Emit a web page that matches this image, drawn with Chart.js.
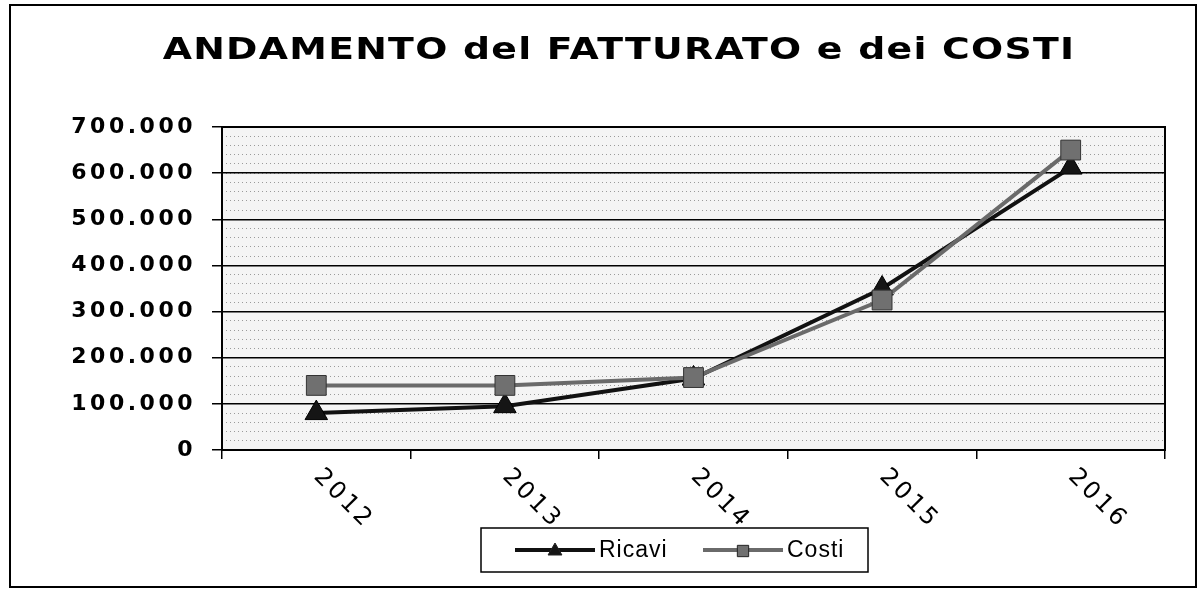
<!DOCTYPE html>
<html>
<head>
<meta charset="utf-8">
<script src="https://cdn.jsdelivr.net/npm/chart.js@4/dist/chart.umd.min.js"></script>
<style>
  html, body { margin: 0; padding: 0; background: #fff; }
  #wrap { width: 1202px; height: 590px; position: relative; }
</style>
</head>
<body>
<div id="wrap"><canvas id="chart" width="1202" height="590"></canvas></div>
<script>
const anni = ['2012', '2013', '2014', '2015', '2016'];
const ricavi = [80000, 95000, 155000, 350000, 612000];
const costi = [140000, 140000, 157000, 325000, 650000];
const titolo = 'ANDAMENTO del FATTURATO e dei COSTI';
const yMax = 700000;
const yStep = 100000;
const yMinorStep = 20000;

function formatIt(v) {
    return String(v).replace(/\B(?=(\d{3})+(?!\d))/g, '.');
}

// frame, title, rotated year labels, boxed legend
const decorPlugin = {
    id: 'decor',
    beforeDraw(chart) {
        const { ctx, chartArea } = chart;
        ctx.save();
        ctx.fillStyle = '#f4f4f4';
        ctx.fillRect(chartArea.left, chartArea.top, chartArea.right - chartArea.left, chartArea.bottom - chartArea.top);
        ctx.restore();
        ctx.letterSpacing = '3.5px';
    },
    beforeDatasetsDraw(chart) {
        const { ctx, chartArea } = chart;
        ctx.letterSpacing = '0px';
        ctx.save();
        ctx.strokeStyle = '#000';
        ctx.lineWidth = 2;
        ctx.strokeRect(chartArea.left, chartArea.top, chartArea.right - chartArea.left, chartArea.bottom - chartArea.top);
        ctx.restore();
    },
    afterDraw(chart) {
        const { ctx } = chart;
        const xs = chart.scales.x;
        ctx.save();

        // outer frame
        ctx.strokeStyle = '#000';
        ctx.lineWidth = 2;
        ctx.strokeRect(10, 5, 1186, 582);

        // title, stretched wide like the original
        ctx.fillStyle = '#000';
        ctx.font = 'bold 30px "DejaVu Sans"';
        ctx.letterSpacing = '1px';
        ctx.textAlign = 'center';
        ctx.textBaseline = 'middle';
        ctx.save();
        ctx.translate(619, 51);
        ctx.scale(1.26, 1);
        ctx.fillText(titolo, 0, 0);
        ctx.restore();

        // year labels, turned clockwise
        ctx.font = '24px "DejaVu Sans"';
        ctx.letterSpacing = '3px';
        anni.forEach((a, i) => {
            const px = xs.getPixelForValue(i);
            ctx.save();
            ctx.translate(px + 27, xs.top + 49);
            ctx.rotate(Math.PI / 4);
            ctx.fillText(a, 0, 0);
            ctx.restore();
        });

        // legend
        ctx.letterSpacing = '1px';
        ctx.lineWidth = 1.5;
        ctx.strokeStyle = '#000';
        ctx.strokeRect(481, 528, 387, 44);
        ctx.font = '23px "Liberation Sans"';
        ctx.textAlign = 'left';
        const items = [
            { ds: chart.data.datasets[0], x: 515 },
            { ds: chart.data.datasets[1], x: 703 }
        ];
        items.forEach(it => {
            const y = 550;
            ctx.strokeStyle = it.ds.borderColor;
            ctx.lineWidth = 4;
            ctx.beginPath();
            ctx.moveTo(it.x, y);
            ctx.lineTo(it.x + 80, y);
            ctx.stroke();
            ctx.fillStyle = it.ds.pointBackgroundColor;
            ctx.strokeStyle = '#222';
            ctx.lineWidth = 1;
            Chart.helpers.drawPoint(ctx, {
                pointStyle: it.ds.pointStyle,
                rotation: 0,
                radius: 8,
                borderWidth: 1
            }, it.x + 40, y + 1);
            ctx.fillStyle = '#000';
            ctx.fillText(it.ds.label, it.x + 84, y + 1);
        });
        ctx.restore();
    }
};

const ctx = document.getElementById('chart').getContext('2d');
new Chart(ctx, {
    type: 'line',
    data: {
        labels: anni,
        datasets: [
            {
                label: 'Ricavi',
                data: ricavi,
                borderColor: '#111',
                borderWidth: 4,
                pointStyle: 'triangle',
                pointRadius: 13,
                pointBackgroundColor: '#151515',
                pointBorderColor: '#000',
                pointBorderWidth: 1,
                tension: 0,
                order: 2
            },
            {
                label: 'Costi',
                data: costi,
                borderColor: '#6a6a6a',
                borderWidth: 4,
                pointStyle: 'rect',
                pointRadius: 14,
                pointBackgroundColor: '#707070',
                pointBorderColor: '#333',
                pointBorderWidth: 1,
                tension: 0,
                order: 1
            }
        ]
    },
    options: {
        responsive: false,
        animation: false,
        layout: { padding: { top: 127, left: 10, right: 37, bottom: 0 } },
        plugins: {
            legend: { display: false },
            title: { display: false },
            tooltip: { enabled: false }
        },
        scales: {
            x: {
                offset: true,
                grid: {
                    offset: true,
                    drawOnChartArea: false,
                    drawTicks: true,
                    tickLength: 9,
                    color: '#000',
                    lineWidth: 1.5
                },
                border: { display: true, color: '#000', width: 2 },
                ticks: { color: 'rgba(0,0,0,0)', autoSkip: false, maxRotation: 0, minRotation: 0 },
                afterFit(s) { s.height = 140; }
            },
            yMinor: {
                position: 'left',
                min: 0,
                max: yMax,
                ticks: { display: false, stepSize: yMinorStep },
                grid: { color: '#9a9a9a', lineWidth: 1, drawTicks: false },
                border: { display: false, dash: [1, 3] },
                afterFit(s) { s.width = 0; }
            },
            y: {
                position: 'left',
                min: 0,
                max: yMax,
                ticks: {
                    stepSize: yStep,
                    padding: 16,
                    color: '#000',
                    font: { family: '"DejaVu Sans"', size: 22, weight: 'bold' },
                    callback: v => formatIt(v)
                },
                grid: { color: '#000', lineWidth: 1.5, tickLength: 10 },
                border: { display: true, color: '#000', width: 2 },
                afterFit(s) { s.width = 212; }
            }
        }
    },
    plugins: [decorPlugin]
});
</script>
</body>
</html>
